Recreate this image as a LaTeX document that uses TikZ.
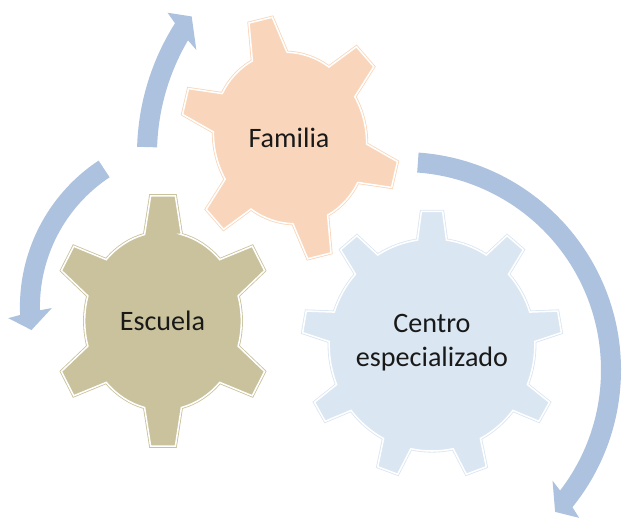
\documentclass[tikz,border=0pt]{standalone}
\usepackage{fontspec}
\setmainfont{Carlito}
\definecolor{famfill}{RGB}{249,214,187}
\definecolor{escfill}{RGB}{201,194,157}
\definecolor{cenfill}{RGB}{218,230,242}
\definecolor{arrowblue}{RGB}{173,194,222}
\tikzset{
  gear/.style={line width=0.7pt, double=white, double distance=1.3pt, line join=miter},
  gearlabel/.style={font=\fontsize{24}{29}\selectfont, text=black!90, align=center},
  cyclearrow/.style={fill=arrowblue}
}
\begin{document}
\begin{tikzpicture}[x=0.03cm, y=0.03cm]
	\useasboundingbox (0,0) rectangle (624,-518);

	% Arrows
	\fill[cyclearrow, shift={(381,-154)}] (178.3:244) arc[start angle=178.3, end angle=147.6, radius=244]
		-- (146.5:256) -- (144:234) -- (150.6:212) -- (149.5:224)
		arc[start angle=149.5, end angle=178.3, radius=224] -- cycle;
	\fill[cyclearrow, shift={(195.5,-307)}] (123.5:175.6) arc[start angle=123.5, end angle=182.6, radius=175.6]
		-- (183.4:187.6) -- (188:165.6) -- (180.4:143.6) -- (181.2:155.6)
		arc[start angle=181.2, end angle=123.5, radius=155.6] -- cycle;
	\fill[cyclearrow, shift={(403,-370)}] (85.9:218) arc[start angle=85.9, end angle=-39, radius=218]
		-- (-40:230) -- (-43:208) -- (-36.5:186) -- (-37.5:198)
		arc[start angle=-37.5, end angle=85.9, radius=198] -- cycle;

	% Familia
	\filldraw[gear, fill=famfill, draw=famfill, shift={(290,-138)}, rotate=14, xscale=0.88, scale=0.97]
		(76.4:89) \foreach \a in {90,150,...,390} {
			-- (\a-6.4:126) -- (\a+6.4:126) -- (\a+13.6:89)
			arc[start angle=\a+13.6, end angle=\a+46.4, radius=89] } -- cycle;

	% Escuela
	\filldraw[gear, fill=escfill, draw=escfill, shift={(163,-321)}, xscale=0.88]
		(76.4:89) \foreach \a in {90,150,...,390} {
			-- (\a-6.4:126) -- (\a+6.4:126) -- (\a+13.6:89)
			arc[start angle=\a+13.6, end angle=\a+46.4, radius=89] } -- cycle;

	% Centro especializado
	\filldraw[gear, fill=cenfill, draw=cenfill, shift={(432,-345)}, xscale=0.97]
		(81.9:106) \foreach \a in {90,130,...,410} {
			-- (\a-4.7:134) -- (\a+4.7:134) -- (\a+8.1:106)
			arc[start angle=\a+8.1, end angle=\a+31.9, radius=106] } -- cycle;

	% Labels
	\node[gearlabel] (familia) at (289,-137.5) {Familia};
	\node[gearlabel] (escuela) at (162.5,-321) {Escuela};
	\node[gearlabel] (centro) at (432,-343) {Centro\\especializado};
\end{tikzpicture}
\end{document}
